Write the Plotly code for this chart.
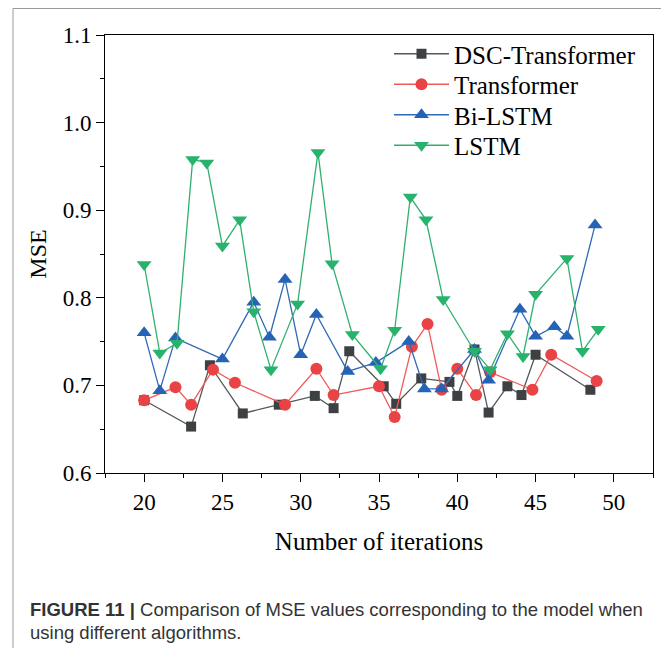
import plotly.graph_objects as go

# ---- data ----
dsc_x = [20, 23, 24.2, 26.3, 28.6, 30.9, 32.1, 33.1, 35.3, 36.1, 37.7, 39.5, 40.0, 41.1, 42.0, 43.2, 44.1, 45.0, 48.5]
dsc_y = [0.683, 0.653, 0.723, 0.668, 0.678, 0.688, 0.674, 0.739, 0.699, 0.679, 0.708, 0.704, 0.688, 0.741, 0.669, 0.699, 0.689, 0.735, 0.695]

tr_x = [20, 22, 23, 24.4, 25.8, 29, 31, 32.1, 35, 36, 37.1, 38.1, 39, 40, 41.2, 42.1, 44.8, 46, 48.9]
tr_y = [0.683, 0.698, 0.678, 0.718, 0.703, 0.678, 0.719, 0.689, 0.699, 0.664, 0.744, 0.770, 0.695, 0.719, 0.689, 0.715, 0.695, 0.735, 0.705]

bi_x = [20, 21, 22, 25, 27, 28, 29, 30, 31, 33, 34.8, 36.9, 37.9, 39, 41.1, 42, 44, 45, 46.2, 47, 48.8]
bi_y = [0.760, 0.694, 0.754, 0.730, 0.795, 0.755, 0.821, 0.735, 0.781, 0.716, 0.726, 0.750, 0.696, 0.696, 0.741, 0.706, 0.787, 0.756, 0.767, 0.756, 0.883]

ls_x = [20, 21, 22.1, 23.1, 24, 25, 26.1, 27, 28.1, 29.8, 31.1, 32, 33.3, 35.1, 36, 37, 38, 39.1, 41.1, 42.1, 43.2, 44.2, 45, 47, 48, 49]
ls_y = [0.838, 0.737, 0.748, 0.958, 0.954, 0.859, 0.889, 0.784, 0.718, 0.793, 0.966, 0.839, 0.758, 0.719, 0.763, 0.915, 0.889, 0.798, 0.739, 0.718, 0.759, 0.733, 0.804, 0.845, 0.739, 0.764]

series_names = ["DSC-Transformer", "Transformer", "Bi-LSTM", "LSTM"]
x_ticks = [20, 25, 30, 35, 40, 45, 50]
y_ticks = [0.6, 0.7, 0.8, 0.9, 1.0, 1.1]

line_colors = ["#555759", "#ef5a5c", "#2f69b8", "#2fb06e"]
marker_colors = ["#3e4144", "#ea4345", "#2563b6", "#27b36b"]
symbols = ["square", "circle", "triangle-up", "triangle-down"]
sizes = [10, 12, 13, 13]
legend_ids = ["legend", "legend2", "legend3", "legend4"]

# page body has an 8px margin: work in reference pixel coords and subtract it
OFF = 8
W, H = 669 - OFF, 648 - OFF
L, R, T, B = 105 - OFF, 653 - OFF, 35 - OFF, 473 - OFF
pw, ph = R - L, B - T

def px(xp):
    return (xp - OFF - L) / pw

def py(yp):
    return (B - (yp - OFF)) / ph

fig = go.Figure()
for name, xs, ys, lc, mc, sym, sz, lg in zip(series_names, [dsc_x, tr_x, bi_x, ls_x], [dsc_y, tr_y, bi_y, ls_y],
                                             line_colors, marker_colors, symbols, sizes, legend_ids):
    fig.add_trace(go.Scatter(x=xs, y=ys, name=name, mode="lines+markers", legend=lg,
                             line=dict(color=lc, width=1.3),
                             marker=dict(symbol=sym, size=sz, color=mc, line=dict(width=0))))

serif = "Liberation Serif, Times New Roman, serif"
axis_common = dict(showline=True, linecolor="black", linewidth=1, mirror=True, ticks="outside",
                   ticklen=8, tickwidth=1, tickcolor="black", showgrid=False, zeroline=False,
                   automargin=False,
                   tickfont=dict(family=serif, size=23, color="black"))

legend_rows = [54, 84.5, 115, 145.5]
legend_common = dict(xanchor="left", yanchor="middle", bgcolor="rgba(0,0,0,0)", borderwidth=0,
                     font=dict(family=serif, size=25, color="black"), itemwidth=55)

layout_legends = {}
for lg, row in zip(legend_ids, legend_rows):
    layout_legends[lg] = dict(x=px(389), y=py(row), **legend_common)

fig.update_layout(
    width=W, height=H,
    margin=dict(l=L, r=W - R, t=T, b=H - B, autoexpand=False),
    paper_bgcolor="white", plot_bgcolor="white",
    xaxis=dict(range=[17.5, 52.5], tickvals=x_ticks,
               minor=dict(ticks="outside", ticklen=4, tickcolor="black", dtick=2.5, tick0=17.5, showgrid=False),
               title=dict(text="Number of iterations", font=dict(family=serif, size=25, color="black"), standoff=18),
               **axis_common),
    yaxis=dict(range=[0.6, 1.1], tickvals=y_ticks, tickformat=".1f",
               minor=dict(ticks="outside", ticklen=4, tickcolor="black", dtick=0.05, tick0=0.6, showgrid=False),
               title=dict(text="MSE", font=dict(family=serif, size=24, color="black"), standoff=9),
               **axis_common),
    showlegend=True,
    **layout_legends,
)

# outer figure frame
fig.add_shape(type="rect", xref="paper", yref="paper", x0=px(13), x1=px(665), y0=py(670), y1=py(8.5),
              line=dict(color="#9a9a9a", width=1), fillcolor="rgba(0,0,0,0)", layer="below")

sans = "Liberation Sans, Arial, Helvetica, sans-serif"
fig.add_annotation(xref="paper", yref="paper", x=px(28), y=py(609), xanchor="left", yanchor="middle",
                   showarrow=False, align="left",
                   text="<b>FIGURE 11</b> <b>|</b> Comparison of MSE values corresponding to the model when",
                   font=dict(family=sans, size=18.5, color="#333333"))
fig.add_annotation(xref="paper", yref="paper", x=px(28), y=py(632), xanchor="left", yanchor="middle",
                   showarrow=False, align="left", text="using different algorithms.",
                   font=dict(family=sans, size=18.5, color="#333333"))

fig.write_html("out.html")
